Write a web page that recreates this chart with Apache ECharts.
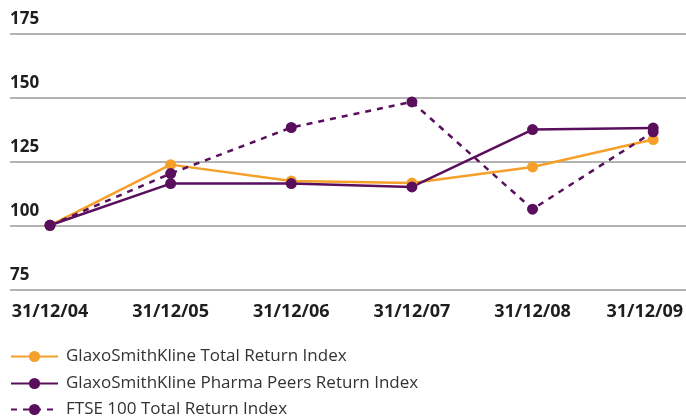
<!DOCTYPE html>
<html>
<head>
<meta charset="utf-8">
<script src="https://cdn.jsdelivr.net/npm/echarts@6/dist/echarts.min.js"></script>
<style>
  html, body { margin: 0; padding: 0; background: #fff; }
  #chart { width: 686px; height: 416px; }
</style>
</head>
<body>
<div id="chart"></div>
<script>
var dates = ['31/12/04', '31/12/05', '31/12/06', '31/12/07', '31/12/08', '31/12/09'];
var gskTotal = [100, 123.7, 117.3, 116.5, 122.8, 133.5];
var pharmaPeers = [100, 116.3, 116.3, 115.0, 137.4, 138.0];
var ftse100 = [100, 120.2, 138.2, 148.2, 106.3, 136.5];
var yMin = 75, yMax = 175, yStep = 25;
var names = ['GlaxoSmithKline Total Return Index', 'GlaxoSmithKline Pharma Peers Return Index', 'FTSE 100 Total Return Index'];

var orange = '#F5A02A';
var purple = '#5A0F5C';
var font = '"Open Sans", "Noto Sans", sans-serif';

var chart = echarts.init(document.getElementById('chart'));

function lineSeries(name, data, color, dashed) {
    return {
        name: name,
        type: 'line',
        xAxisIndex: 1,
        yAxisIndex: 1,
        data: data,
        symbol: 'circle',
        symbolSize: 11,
        itemStyle: { color: color },
        lineStyle: { color: color, width: 2.5, type: dashed ? [6, 6] : 'solid' },
        emphasis: { disabled: true }
    };
}

// one legend per row so it never wraps into columns
function legendRow(name, top) {
    return {
        orient: 'vertical',
        left: 10,
        top: top,
        padding: 0,
        itemWidth: 47,
        itemHeight: 14,
        selectedMode: false,
        textStyle: { fontSize: 17, color: '#333', padding: [0, 0, 0, 3] },
        data: [name]
    };
}

chart.setOption({
    animation: false,
    textStyle: { fontFamily: font },
    grid: [
        { left: 10, right: 0, top: 33.3, bottom: 126.7 },   // gridlines + y labels
        { left: 50, right: 32, top: 33.3, bottom: 126.7 }   // the lines
    ],
    xAxis: [
        { gridIndex: 0, type: 'value', show: false },
        {
            gridIndex: 1,
            type: 'category',
            boundaryGap: false,
            data: dates,
            axisLine: { show: false },
            axisTick: { show: false },
            axisLabel: {
                interval: 0,
                hideOverlap: false,
                margin: 14,
                fontSize: 18,
                fontWeight: 'bold',
                color: '#1e1e1e',
                formatter: function (v, i) {
                    return i === dates.length - 1 ? '{last|' + v + '}' : v;
                },
                rich: {
                    last: { fontSize: 18, fontWeight: 'bold', color: '#1e1e1e', padding: [0, 17, 0, 0] }
                }
            }
        }
    ],
    yAxis: [
        {
            gridIndex: 0,
            type: 'value',
            min: yMin,
            max: yMax,
            interval: yStep,
            axisLine: { show: false },
            axisTick: { show: false },
            splitLine: { lineStyle: { color: '#9a9a9a', width: 1.5 } },
            axisLabel: {
                inside: true,
                margin: 0,
                verticalAlign: 'bottom',
                padding: [0, 0, 6, 0],
                fontSize: 17,
                fontWeight: 'bold',
                color: '#1e1e1e'
            }
        },
        { gridIndex: 1, type: 'value', min: yMin, max: yMax, interval: yStep, show: false, splitLine: { show: false } }
    ],
    legend: [
        legendRow(names[0], 348),
        legendRow(names[1], 375),
        legendRow(names[2], 401)
    ],
    series: [
        lineSeries(names[0], gskTotal, orange, false),
        lineSeries(names[2], ftse100, purple, true),
        lineSeries(names[1], pharmaPeers, purple, false)
    ]
});
</script>
</body>
</html>
